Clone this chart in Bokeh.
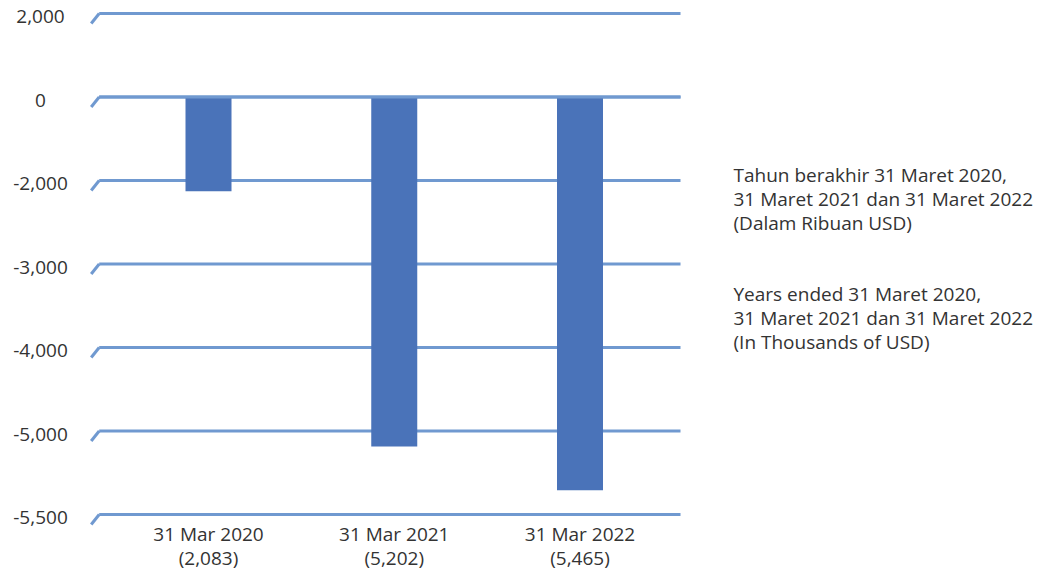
from bokeh.plotting import figure
from bokeh.models import Range1d, ColumnDataSource
from bokeh.core.properties import value
from bokeh.embed import file_html
from bokeh.resources import INLINE

# ---- data ----
periods = ["31 Mar 2020", "31 Mar 2021", "31 Mar 2022"]
period_values = ["(2,083)", "(5,202)", "(5,465)"]
# bar extent as drawn, in gridline steps below the zero line
bar_depth = [-1.128, -4.187, -4.711]
tick_labels = ["2,000", "0", "-2,000", "-3,000", "-4,000", "-5,000", "-5,500"]
tick_steps = [1, 0, -1, -2, -3, -4, -5]
note_id = ["Tahun berakhir 31 Maret 2020,", "31 Maret 2021 dan 31 Maret 2022", "(Dalam Ribuan USD)"]
note_en = ["Years ended 31 Maret 2020,", "31 Maret 2021 dan 31 Maret 2022", "(In Thousands of USD)"]

FONT = value("Open Sans")
FS = "19px"
TXT = "#333333"
GRID = "#7099d0"
BAR = "#4a73b9"

W, H = 1038, 570
STEP = 83.5          # px per gridline step
ZERO_PX = 13 + STEP  # px from top to the zero line
XU = 185.75          # px per category
X1_PX = 208          # px of first category centre

p = figure(width=W, height=H, output_backend="svg", toolbar_location=None,
           x_range=Range1d(1 - X1_PX / XU, 1 + (W - X1_PX) / XU),
           y_range=Range1d(-(H - ZERO_PX) / STEP, ZERO_PX / STEP),
           min_border=0, min_border_left=0, min_border_right=0,
           min_border_top=0, min_border_bottom=0)
p.axis.visible = False
p.grid.visible = False
p.outline_line_color = None
p.background_fill_color = "white"

x_pos = list(range(1, len(periods) + 1))

# gridlines with a slanted foot at the left
gx0, gx1 = 1 + (98.7 - X1_PX) / XU, 1 + (680 - X1_PX) / XU
gx_slant, gy_slant = 1 + (90.7 - X1_PX) / XU, 10 / STEP
n = len(tick_steps)
p.segment(x0=[gx0] * n, y0=tick_steps, x1=[gx1] * n, y1=tick_steps,
          line_color=GRID, line_width=3)
p.segment(x0=[gx_slant] * n, y0=[t - gy_slant for t in tick_steps],
          x1=[gx0] * n, y1=tick_steps, line_color=GRID, line_width=3)

# bars
src = ColumnDataSource(dict(x=x_pos, top=[0] * len(x_pos), bottom=bar_depth))
p.vbar(x="x", top="top", bottom="bottom", width=46 / XU, source=src,
       fill_color=BAR, line_color=None)
# zero line on top of bars
p.segment(x0=[gx0], y0=[0], x1=[gx1], y1=[0], line_color=GRID, line_width=3)

# y tick labels
p.text(x=[1 + (40 - X1_PX) / XU] * n, y=tick_steps, text=tick_labels,
       text_font=FONT, text_font_size=FS, text_color=TXT,
       text_align="center", text_baseline="middle", y_offset=3)

# category labels
low = min(tick_steps)
p.text(x=x_pos, y=[low] * len(x_pos), text=periods, text_font=FONT, text_font_size=FS,
       text_color=TXT, text_align="center", text_baseline="middle", y_offset=19)
p.text(x=x_pos, y=[low] * len(x_pos), text=period_values, text_font=FONT, text_font_size=FS,
       text_color=TXT, text_align="center", text_baseline="middle", y_offset=43)

# side note
nx = 1 + (733 - X1_PX) / XU
top = max(tick_steps)
p.text(x=[nx] * 3, y=[top - 1.94] * 3, text=note_id, text_font=FONT,
       text_font_size=FS, text_color=TXT, text_align="left", text_baseline="middle",
       y_offset=[0, 24, 48])
p.text(x=[nx] * 3, y=[top - 3.365] * 3, text=note_en, text_font=FONT,
       text_font_size=FS, text_color=TXT, text_align="left", text_baseline="middle",
       y_offset=[0, 24, 48])

open("out.html", "w").write(file_html(p, INLINE))
